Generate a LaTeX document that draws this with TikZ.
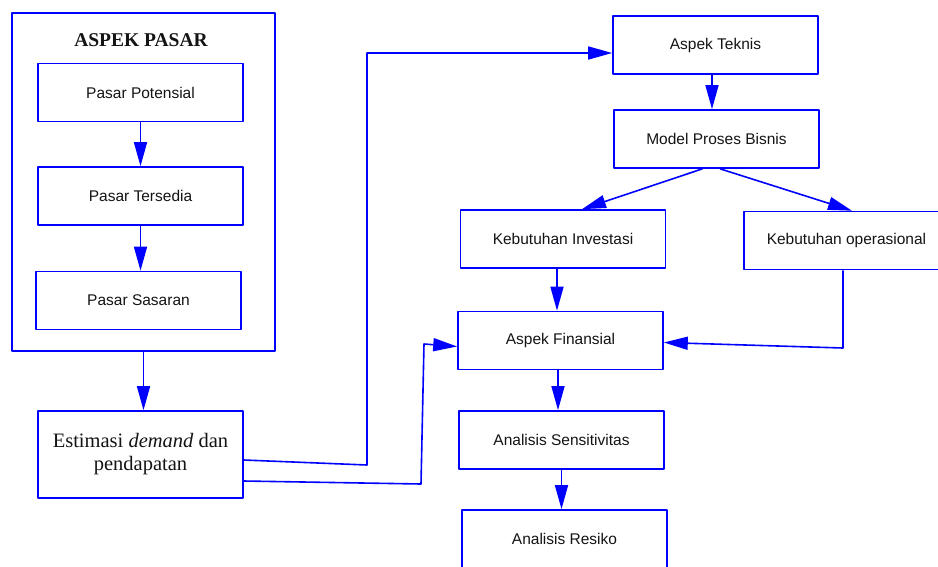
\documentclass[tikz,border=0pt]{standalone}
\usepackage{fontspec}
\setmainfont{Liberation Serif}
\setsansfont{Liberation Sans}
\usetikzlibrary{arrows.meta}
\definecolor{biru}{RGB}{0,0,255}
\definecolor{teks}{RGB}{20,20,20}
\begin{document}
\begin{tikzpicture}[x=1pt,y=-1pt,>={Triangle[length=24pt,width=13pt]}, line join=round]
		\tikzset{kotak/.style={draw=biru, line width=1.6pt, fill=white, minimum width=205pt, minimum height=58pt, inner sep=0pt, font=\sffamily\fontsize{15.5}{18}\selectfont, text=teks},
		panah/.style={->, draw=biru, line width=1.6pt}}
		\useasboundingbox (0,0) rectangle (938,566);
		% aspek pasar
		\node[kotak, minimum width=263pt, minimum height=338pt] (pasar) at (143.5,182) {};
		\node[text=teks, font=\rmfamily\bfseries\fontsize{19.5}{22}\selectfont] (judul) at (141,40) {ASPEK PASAR};
		\node[kotak] (potensial) at (140.5,92.5) {Pasar Potensial};
		\node[kotak] (tersedia) at (140.5,196) {Pasar Tersedia};
		\node[kotak] (sasaran) at (138.5,300.5) {Pasar Sasaran};
		\node[kotak, minimum height=87pt, align=center, font=\rmfamily\fontsize{20.5}{23}\selectfont] (estimasi) at (140.5,454.5) {Estimasi \textit{demand} dan\\pendapatan};
		% kanan
		\node[kotak] (teknis) at (715.5,45) {Aspek Teknis};
		\node[kotak] (bisnis) at (716.5,139) {Model Proses Bisnis};
		\node[kotak] (investasi) at (563,239) {Kebutuhan Investasi};
		\node[kotak] (operasional) at (846.5,240.5) {Kebutuhan operasional};
		\node[kotak] (finansial) at (560.5,340.5) {Aspek Finansial};
		\node[kotak] (sensitivitas) at (561.5,440) {Analisis Sensitivitas};
		\node[kotak] (resiko) at (564.5,539) {Analisis Resiko};
		% titik belok
		\coordinate (b1) at (367,465); \coordinate (b2) at (367,53);
		\coordinate (b3) at (421,484); \coordinate (b4) at (424,344);
		\coordinate (b5) at (843,348);
		% panah
		\draw[panah] (potensial.south) -- (potensial.south |- tersedia.north);
		\draw[panah] (tersedia.south) -- (tersedia.south |- sasaran.north);
		\draw[panah] (pasar.south) -- (pasar.south |- estimasi.north);
		\draw[panah] ([yshift=-5.5pt]estimasi.east) -- (b1) -- (b2) -- ([yshift=-8pt]teknis.west);
		\draw[panah] ([yshift=-26.5pt]estimasi.east) -- (b3) -- (b4) -- ([yshift=-6pt]finansial.west);
		\draw[panah] ([xshift=-3.5pt]teknis.south) -- ([xshift=-3.5pt]teknis.south |- bisnis.north);
		\draw[panah] ([xshift=-14pt]bisnis.south) -- ([xshift=19pt]investasi.north);
		\draw[panah] ([xshift=3.5pt]bisnis.south) -- ([xshift=5.5pt]operasional.north);
		\draw[panah] ([xshift=-6pt]investasi.south) -- ([xshift=-6pt]investasi.south |- finansial.north);
		\draw[panah] ([xshift=-3.5pt]operasional.south) -- (b5) -- ([yshift=-2pt]finansial.east);
		\draw[panah] ([xshift=-2.5pt]finansial.south) -- ([xshift=-2.5pt]finansial.south |- sensitivitas.north);
		\draw[panah] (sensitivitas.south) -- (sensitivitas.south |- resiko.north);
\end{tikzpicture}
\end{document}
